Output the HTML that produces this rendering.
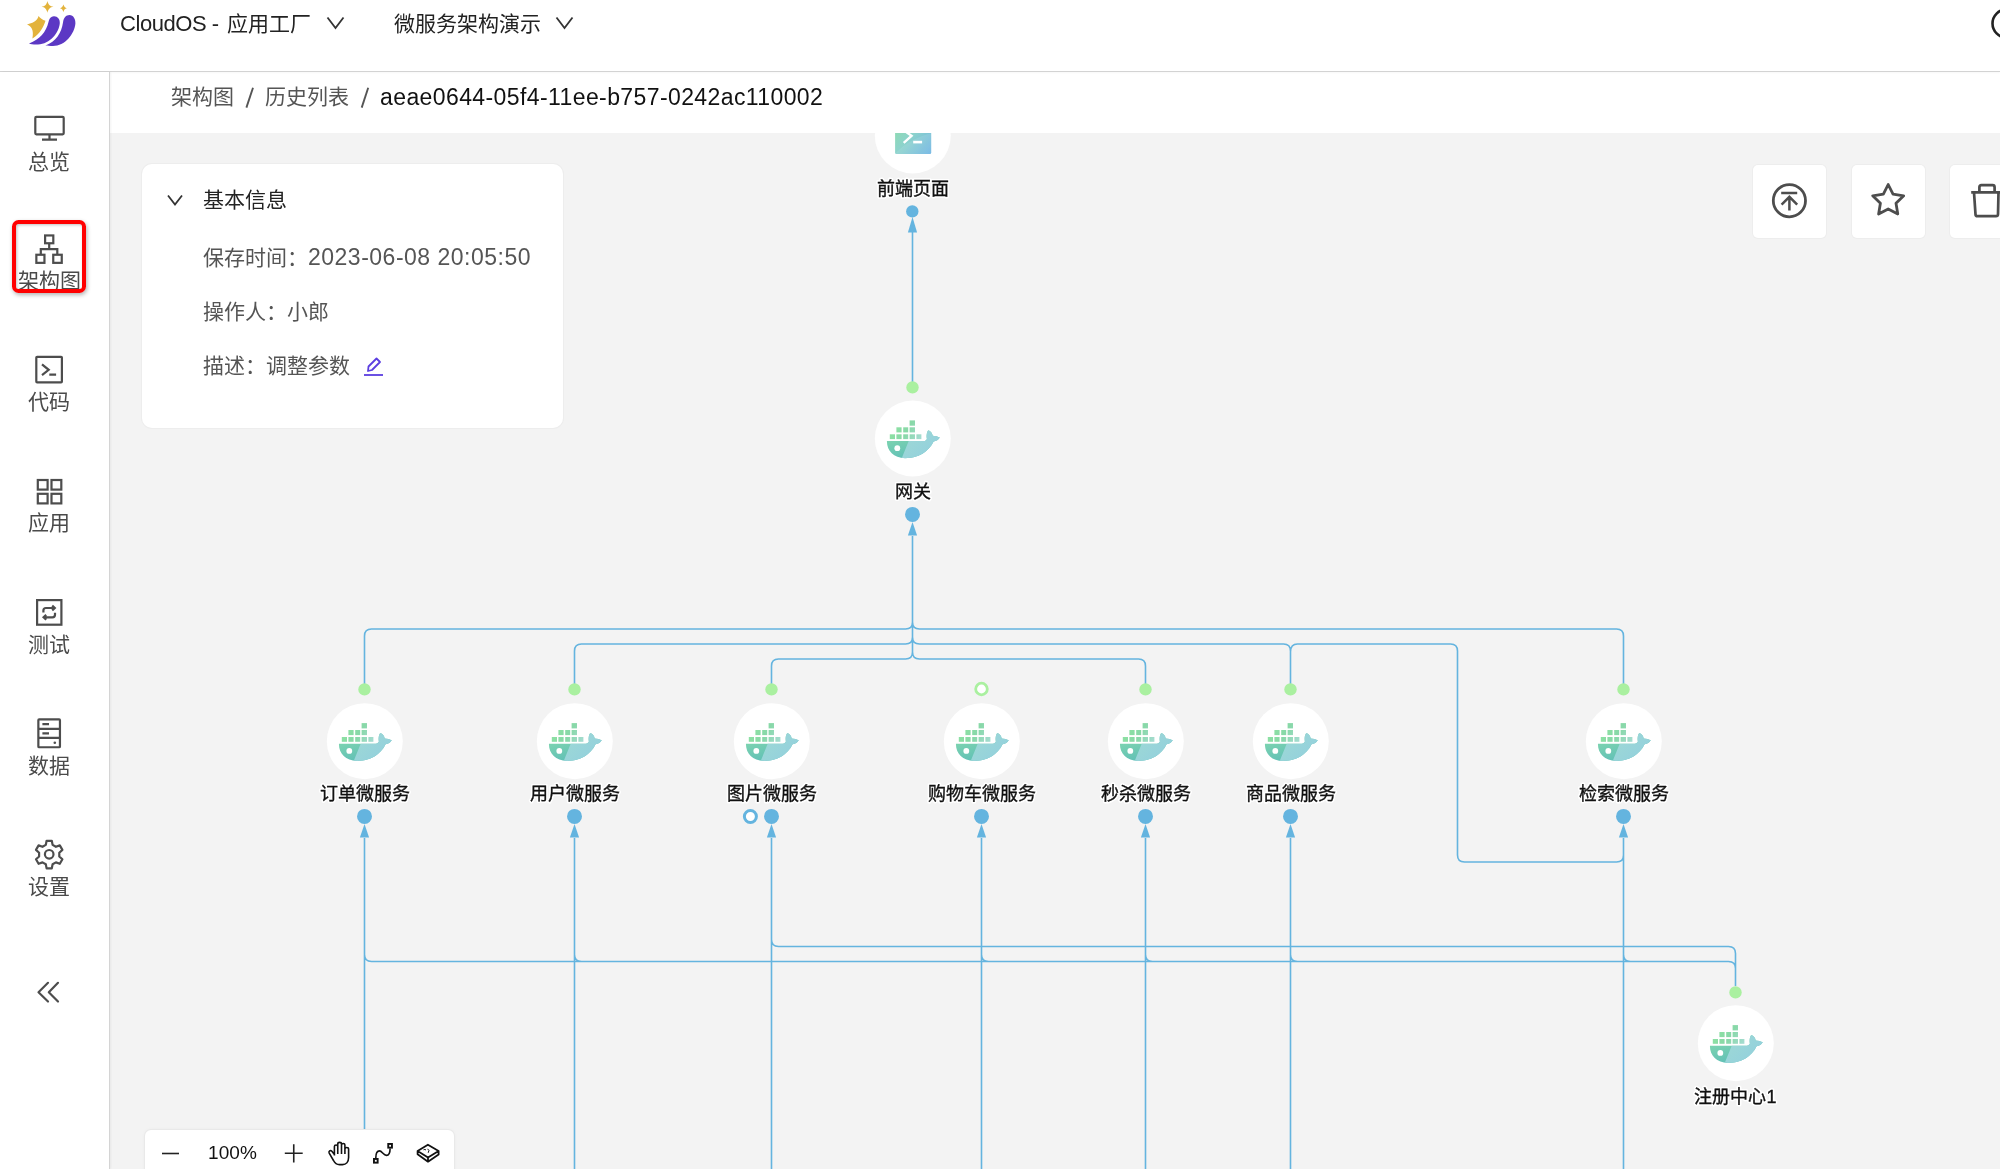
<!DOCTYPE html>
<html lang="zh-CN"><head><meta charset="utf-8">
<style>
*{margin:0;padding:0;box-sizing:border-box}
html,body{width:2000px;height:1169px;overflow:hidden;background:#f3f3f3;font-family:"Liberation Sans",sans-serif;}
body{will-change:transform}
.abs{position:absolute}
#header{position:absolute;left:0;top:0;width:2000px;height:72px;background:#fff;border-bottom:1px solid #d3d3d3;box-shadow:0 1px 2px rgba(0,0,0,0.03)}
#side{position:absolute;left:0;top:72px;width:110px;height:1097px;background:#fff;border-right:1px solid #d4d4d4;box-shadow:1px 0 2px rgba(0,0,0,0.05)}
#crumb{position:absolute;left:110px;top:72px;width:1890px;height:61px;background:#fff;}
.t{position:absolute;white-space:nowrap;line-height:1}
.sl{position:absolute;left:0;width:98px;text-align:center;font-size:21px;color:#4a4a4a;line-height:1}
.lbl{font-size:18px;font-family:"Liberation Sans",sans-serif;}
.halo{fill:#fff;stroke:#fff;stroke-width:3.5px;stroke-linejoin:round}
.ink{fill:#111;stroke:#111;stroke-width:0.35px}
#graph{position:absolute;left:0;top:0}
.card{position:absolute;background:#fff;border-radius:10px;box-shadow:0 0 0 1px #ededed}
.btn{position:absolute;top:164px;width:73px;height:73px;background:#fff;border-radius:5px;box-shadow:0 0 0 1px #ededed}
.ic{fill:none;stroke:#4d4d4d;stroke-width:2.2}
</style></head><body>
<svg id="graph" width="2000" height="1169" viewBox="0 0 2000 1169">
<defs>
 <linearGradient id="gBox" gradientUnits="userSpaceOnUse" x1="-23" y1="-18" x2="9" y2="1">
  <stop offset="0" stop-color="#90e6a0"/><stop offset="0.55" stop-color="#88d8a8"/><stop offset="1" stop-color="#a8dcd4"/>
 </linearGradient>
 <linearGradient id="gBody" x1="0" y1="0" x2="0.6" y2="1">
  <stop offset="0" stop-color="#88dcad"/><stop offset="1" stop-color="#5cbcb8"/>
 </linearGradient>
 <linearGradient id="gBody2" x1="0" y1="0" x2="1" y2="1">
  <stop offset="0" stop-color="#a2dcd2"/><stop offset="1" stop-color="#8fcde0"/>
 </linearGradient>
 <linearGradient id="gTerm" x1="0" y1="0" x2="1" y2="1">
  <stop offset="0" stop-color="#8fe0a0"/><stop offset="0.5" stop-color="#8dd3cc"/><stop offset="1" stop-color="#6cb3e3"/>
 </linearGradient>
 
<symbol id="whale" overflow="visible">
  <g fill="url(#gBox)">
   <rect x="-22.9" y="-3.9" width="5.2" height="4.8"/>
   <rect x="-16.3" y="-3.9" width="5.2" height="4.8"/>
   <rect x="-9.5" y="-3.9" width="5.0" height="4.8"/>
   <rect x="-3.1" y="-3.9" width="5.4" height="4.8"/>
   <rect x="3.7" y="-3.9" width="5.0" height="4.8"/>
   <rect x="-16.3" y="-10.9" width="5.2" height="5.1"/>
   <rect x="-9.5" y="-10.9" width="5.0" height="5.1"/>
   <rect x="-3.1" y="-10.9" width="5.4" height="5.1"/>
   <rect x="-3.1" y="-17.8" width="5.4" height="5.3"/>
  </g>
  <path fill="url(#gBody)" d="M-25.8 2.9 H11.1 C12.5 2.7 13.8 1.8 14.2 0.7 C13.5 -3 14.2 -6.8 15.8 -8 C18.2 -6.8 19.8 -4.8 20 -2.4 C22.5 -2.3 25.3 -1.5 27.1 -0.6 C25.8 1.7 23.5 3 20.9 3.4 C17.5 10.5 9 20 -7.6 20 C-19 20 -25.8 13 -25.8 2.9 Z"/>
  <path fill="url(#gBody2)" clip-path="url(#wclip)" d="M-4 2.9 L-4 -20 L30 -20 L30 25 L-13 25 Z"/>
  <circle cx="-15.4" cy="10" r="2.9" fill="#fff"/>
</symbol>
<clipPath id="wclip"><path d="M-25.8 2.9 H11.1 C12.5 2.7 13.8 1.8 14.2 0.7 C13.5 -3 14.2 -6.8 15.8 -8 C18.2 -6.8 19.8 -4.8 20 -2.4 C22.5 -2.3 25.3 -1.5 27.1 -0.6 C25.8 1.7 23.5 3 20.9 3.4 C17.5 10.5 9 20 -7.6 20 C-19 20 -25.8 13 -25.8 2.9 Z"/></clipPath>
<symbol id="term" overflow="visible">
  <rect x="-17.6" y="-22" width="36.1" height="40.7" rx="1.2" fill="url(#gTerm)"/>
  <path d="M-17.6 18.7 C-12 12 -6 8 2 4 C8 1 14 -1 18.5 -2 V18.7 Z" fill="#fff" opacity="0.1"/>
  <path d="M-7.2 -3.6 L-1.2 0.6 L-9 7.6" stroke="#fff" stroke-width="2.4" fill="none" stroke-linejoin="miter"/>
  <rect x="0.5" y="5.6" width="8.9" height="2.6" fill="#fff"/>
</symbol>

</defs>
<path fill="none" stroke="#64b4df" stroke-width="1.6" d="M912.5 232 V386 M912.5 536 V652 M912.5 622 Q912.5 629 905.5 629 H371.5 Q364.5 629 364.5 636 V689 M912.5 622 Q912.5 629 919.5 629 H1616.5 Q1623.5 629 1623.5 636 V689 M912.5 637 Q912.5 644 905.5 644 H581.5 Q574.5 644 574.5 651 V689 M912.5 637 Q912.5 644 919.5 644 H1283.5 Q1290.5 644 1290.5 651 V689 M912.5 652 Q912.5 659 905.5 659 H778.5 Q771.5 659 771.5 666 V689 M912.5 652 Q912.5 659 919.5 659 H1138.5 Q1145.5 659 1145.5 666 V689 M1290.5 652 Q1290.5 644 1297.5 644 H1450.5 Q1457.5 644 1457.5 651 V855 Q1457.5 862 1464.5 862 H1616.5 Q1623.5 862 1623.5 855 M364.5 838 V1169 M574.5 838 V1169 M771.5 838 V1169 M981.5 838 V1169 M1145.5 838 V1169 M1290.5 838 V1169 M1623.5 838 V1169 M771.5 939.5 Q771.5 946.5 778.5 946.5 H1728.5 Q1735.5 946.5 1735.5 953.5 V986 M364.5 954.5 Q364.5 961.5 371.5 961.5 H1728.5 Q1735.5 961.5 1735.5 968.5 V975 M574.5 954.5 Q574.5 961.5 581.5 961.5 M981.5 954.5 Q981.5 961.5 988.5 961.5 M1145.5 954.5 Q1145.5 961.5 1152.5 961.5 M1290.5 954.5 Q1290.5 961.5 1297.5 961.5 M1623.5 954.5 Q1623.5 961.5 1630.5 961.5"/>
<circle cx="912.8" cy="135.5" r="38" fill="#fff"/>
<use href="#term" x="912.7" y="135.2"/>
<text x="912.5" y="195" text-anchor="middle" class="lbl halo">前端页面</text>
<text x="912.5" y="195" text-anchor="middle" class="lbl ink">前端页面</text>
<circle cx="912.3" cy="211.4" r="6.2" fill="#64b4df"/>
<path d="M912.5 217 L917.1 232.5 L907.9 232.5 Z" fill="#64b4df"/>
<circle cx="912.8" cy="438.5" r="38" fill="#fff"/>
<use href="#whale" x="912.7" y="438.2"/>
<text x="912.5" y="498" text-anchor="middle" class="lbl halo">网关</text>
<text x="912.5" y="498" text-anchor="middle" class="lbl ink">网关</text>
<circle cx="912.5" cy="387.4" r="6.2" fill="#aaf0a0"/>
<circle cx="912.5" cy="514.4" r="7.5" fill="#64b4df"/>
<path d="M912.5 522 L917.1 535.6 L907.9 535.6 Z" fill="#64b4df"/>
<circle cx="364.8" cy="741.2" r="38" fill="#fff"/>
<use href="#whale" x="364.7" y="740.9000000000001"/>
<text x="364.5" y="800" text-anchor="middle" class="lbl halo">订单微服务</text>
<text x="364.5" y="800" text-anchor="middle" class="lbl ink">订单微服务</text>
<circle cx="364.5" cy="689.4" r="6.2" fill="#aaf0a0"/>
<circle cx="364.5" cy="816.4" r="7.5" fill="#64b4df"/>
<path d="M364.5 824 L369.1 837.6 L359.9 837.6 Z" fill="#64b4df"/>
<circle cx="574.8" cy="741.2" r="38" fill="#fff"/>
<use href="#whale" x="574.7" y="740.9000000000001"/>
<text x="574.5" y="800" text-anchor="middle" class="lbl halo">用户微服务</text>
<text x="574.5" y="800" text-anchor="middle" class="lbl ink">用户微服务</text>
<circle cx="574.5" cy="689.4" r="6.2" fill="#aaf0a0"/>
<circle cx="574.5" cy="816.4" r="7.5" fill="#64b4df"/>
<path d="M574.5 824 L579.1 837.6 L569.9 837.6 Z" fill="#64b4df"/>
<circle cx="771.8" cy="741.2" r="38" fill="#fff"/>
<use href="#whale" x="771.7" y="740.9000000000001"/>
<text x="771.5" y="800" text-anchor="middle" class="lbl halo">图片微服务</text>
<text x="771.5" y="800" text-anchor="middle" class="lbl ink">图片微服务</text>
<circle cx="771.5" cy="689.4" r="6.2" fill="#aaf0a0"/>
<circle cx="771.5" cy="816.4" r="7.5" fill="#64b4df"/>
<path d="M771.5 824 L776.1 837.6 L766.9 837.6 Z" fill="#64b4df"/>
<circle cx="981.8" cy="741.2" r="38" fill="#fff"/>
<use href="#whale" x="981.7" y="740.9000000000001"/>
<text x="981.5" y="800" text-anchor="middle" class="lbl halo">购物车微服务</text>
<text x="981.5" y="800" text-anchor="middle" class="lbl ink">购物车微服务</text>
<circle cx="981.5" cy="689" r="5.8" fill="#fff" stroke="#aaf0a0" stroke-width="2.8"/>
<circle cx="981.5" cy="816.4" r="7.5" fill="#64b4df"/>
<path d="M981.5 824 L986.1 837.6 L976.9 837.6 Z" fill="#64b4df"/>
<circle cx="1145.8" cy="741.2" r="38" fill="#fff"/>
<use href="#whale" x="1145.7" y="740.9000000000001"/>
<text x="1145.5" y="800" text-anchor="middle" class="lbl halo">秒杀微服务</text>
<text x="1145.5" y="800" text-anchor="middle" class="lbl ink">秒杀微服务</text>
<circle cx="1145.5" cy="689.4" r="6.2" fill="#aaf0a0"/>
<circle cx="1145.5" cy="816.4" r="7.5" fill="#64b4df"/>
<path d="M1145.5 824 L1150.1 837.6 L1140.9 837.6 Z" fill="#64b4df"/>
<circle cx="1290.8" cy="741.2" r="38" fill="#fff"/>
<use href="#whale" x="1290.7" y="740.9000000000001"/>
<text x="1290.5" y="800" text-anchor="middle" class="lbl halo">商品微服务</text>
<text x="1290.5" y="800" text-anchor="middle" class="lbl ink">商品微服务</text>
<circle cx="1290.5" cy="689.4" r="6.2" fill="#aaf0a0"/>
<circle cx="1290.5" cy="816.4" r="7.5" fill="#64b4df"/>
<path d="M1290.5 824 L1295.1 837.6 L1285.9 837.6 Z" fill="#64b4df"/>
<circle cx="1623.8" cy="741.2" r="38" fill="#fff"/>
<use href="#whale" x="1623.7" y="740.9000000000001"/>
<text x="1623.5" y="800" text-anchor="middle" class="lbl halo">检索微服务</text>
<text x="1623.5" y="800" text-anchor="middle" class="lbl ink">检索微服务</text>
<circle cx="1623.5" cy="689.4" r="6.2" fill="#aaf0a0"/>
<circle cx="1623.5" cy="816.4" r="7.5" fill="#64b4df"/>
<path d="M1623.5 824 L1628.1 837.6 L1618.9 837.6 Z" fill="#64b4df"/>
<circle cx="750.4" cy="816.5" r="6" fill="#fff" stroke="#64b4df" stroke-width="3"/>
<circle cx="1735.8" cy="1043.2" r="38" fill="#fff"/>
<use href="#whale" x="1735.7" y="1042.9"/>
<text x="1735.5" y="1103" text-anchor="middle" class="lbl halo">注册中心1</text>
<text x="1735.5" y="1103" text-anchor="middle" class="lbl ink">注册中心1</text>
<circle cx="1735.5" cy="992.4" r="6.2" fill="#aaf0a0"/>
</svg>

<div id="crumb">
 <div class="t" style="left:61px;top:14px;font-size:21px;color:#555">架构图</div>
 <svg class="abs" style="left:130px;top:12px" width="20" height="26"><path d="M13 3.8 L6.4 23.6" stroke="#555" stroke-width="1.9"/></svg>
 <div class="t" style="left:155px;top:14px;font-size:21px;color:#555">历史列表</div>
 <svg class="abs" style="left:245px;top:12px" width="20" height="26"><path d="M13.2 3.8 L6.7 23.6" stroke="#555" stroke-width="1.9"/></svg>
 <div class="t" style="left:270px;top:14px;font-size:21px;color:#111;letter-spacing:0.4px;font-size:23px">aeae0644-05f4-11ee-b757-0242ac110002</div>
</div>

<div id="header">
 <svg class="abs" style="left:10px;top:0" width="80" height="60" viewBox="0 0 80 60">
  <path fill="#e3b33c" d="M37.4 1 C38.5 5 40 6.5 43.5 6.7 C40 7.2 38.5 8.5 37.4 12.8 C36.4 8.5 35 7.2 31.5 6.7 C35 6.5 36.4 5 37.4 1 Z"/>
  <path fill="#e3b33c" d="M53.4 4.5 C54.2 7 55 7.7 56.8 8.2 C55 8.6 54.2 9.4 53.4 12 C52.6 9.4 51.8 8.6 50 8.2 C51.8 7.7 52.6 7 53.4 4.5 Z"/>
  <path fill="#e3b33c" d="M28.6 16 C27 20 26 22 17 24.5 C21.5 26.5 24 30 22.4 38.5 C30 34 33 28 35.5 20.8 C32.5 20 30 18 28.6 16 Z"/>
  <path fill="#5c38c4" d="M19 43.5 C30 39.5 36 32 38.5 22 C39.5 18 41 16.5 43.8 16.2 C47.5 16 50 19 49.8 23 C49 33 40 44 28 44.5 C24 44.7 21 44.3 19 43.5 Z"/>
  <path fill="#5c38c4" d="M35.5 45.5 C46 41.5 51.5 33 53 22.5 C53.6 17.7 56 15 59.5 15 C63.5 15.2 65.6 19 65.4 23.5 C64.5 34 55 46 43 46 C40 46 37.5 45.8 35.5 45.5 Z"/>
 </svg>
 <div class="t" style="left:120px;top:13px;font-size:21px;color:#222"><span style="font-size:22px;letter-spacing:-0.45px">CloudOS -</span> <span style="margin-left:2px">应用工厂</span></div>
 <svg class="abs" style="left:325px;top:15px" width="22" height="16"><path d="M2.5 2.5 L10.5 13 L18.5 2.5" stroke="#333" stroke-width="1.8" fill="none"/></svg>
 <div class="t" style="left:394px;top:13px;font-size:21px;color:#222">微服务架构演示</div>
 <svg class="abs" style="left:554px;top:15px" width="22" height="16"><path d="M2.5 2.5 L10.5 13 L18.5 2.5" stroke="#333" stroke-width="1.8" fill="none"/></svg>
 <svg class="abs" style="left:1975px;top:6px" width="25" height="34"><circle cx="31.5" cy="17.5" r="14" stroke="#222" stroke-width="2.6" fill="none"/></svg>
</div>

<div id="side"></div>
<!-- sidebar icons (page coords) -->
<svg class="abs" style="left:33px;top:113px" width="32" height="30" viewBox="0 0 32 30"><rect x="2.3" y="3.9" width="28.4" height="17.4" rx="1" class="ic"/><path d="M16.5 21.3 V26.7 M9 26.7 H24" class="ic"/></svg>
<div class="sl" style="top:151px">总览</div>

<div class="abs" style="left:11.5px;top:219.5px;width:74.5px;height:73.5px;border:4px solid #ff0000;border-radius:6.5px;box-shadow:1px 2px 4px rgba(0,0,0,0.3), inset 1px 1px 3px rgba(0,0,0,0.25)"></div>
<svg class="abs" style="left:33px;top:232px" width="32" height="34" viewBox="0 0 32 34"><rect x="12.1" y="3.45" width="8.2" height="7.8" class="ic" stroke-width="1.9"/><rect x="3.35" y="22.75" width="8.1" height="8.1" class="ic" stroke-width="1.9"/><rect x="20.25" y="22.75" width="8.5" height="8.1" class="ic" stroke-width="1.9"/><path d="M16.2 11.3 V17.2 M7.8 22.75 V17.2 H24.3 V22.75" class="ic" stroke-width="1.9"/></svg>
<div class="sl" style="top:270px;height:19px;overflow:hidden">架构图</div>

<svg class="abs" style="left:33px;top:353px" width="32" height="33" viewBox="0 0 32 33"><rect x="3.3" y="3.8" width="25.6" height="25.6" rx="0.8" class="ic"/><path d="M9 11.4 L15.7 16.8 L9 22.1 M16.3 21.6 H23.1" class="ic" stroke-width="2.1"/></svg>
<div class="sl" style="top:391px">代码</div>

<svg class="abs" style="left:33px;top:476px" width="32" height="30" viewBox="0 0 32 30"><rect x="4.8" y="4" width="9.8" height="9.6" class="ic" stroke-width="2"/><rect x="18.5" y="4" width="9.8" height="9.6" class="ic" stroke-width="2"/><rect x="4.8" y="17.8" width="9.8" height="9.6" class="ic" stroke-width="2"/><rect x="18.5" y="17.8" width="9.8" height="9.6" class="ic" stroke-width="2"/></svg>
<div class="sl" style="top:512px">应用</div>

<svg class="abs" style="left:33px;top:596px" width="32" height="33" viewBox="0 0 32 33"><rect x="4.1" y="4.1" width="24.3" height="24.6" class="ic"/><path d="M10.4 16.5 V14.5 C10.4 12.8 11.3 12 13 12 H21.5 M19.2 9.6 L21.8 12 L19.2 14.4 M22 16.8 V18.8 C22 20.5 21.1 21.3 19.4 21.3 H10.9 M13.2 18.9 L10.6 21.3 L13.2 23.7" class="ic" stroke-width="1.9"/></svg>
<div class="sl" style="top:634px">测试</div>

<svg class="abs" style="left:33px;top:716px" width="32" height="34" viewBox="0 0 32 34"><rect x="5.35" y="3.45" width="21.6" height="27.8" rx="0.8" class="ic" stroke-width="2.1"/><path d="M5.35 12.9 H27 M5.35 21.8 H27 M9.4 8.2 H16 M9.4 17.4 H16" class="ic" stroke-width="2"/><circle cx="21.8" cy="26.8" r="1.3" fill="#4d4d4d"/></svg>
<div class="sl" style="top:755px">数据</div>

<svg class="abs" style="left:33px;top:837px" width="32" height="34" viewBox="0 0 32 34"><path d="M13.6 3.8 H18.8 L19.6 7.9 L22.9 9.8 L26.8 8.4 L29.4 12.9 L26.3 15.7 V19.5 L29.4 22.3 L26.8 26.8 L22.9 25.4 L19.6 27.3 L18.8 31.4 H13.6 L12.8 27.3 L9.5 25.4 L5.6 26.8 L3 22.3 L6.1 19.5 V15.7 L3 12.9 L5.6 8.4 L9.5 9.8 L12.8 7.9 Z" class="ic" stroke-width="2.1" stroke-linejoin="round"/><circle cx="16.2" cy="17.3" r="4.3" class="ic" stroke-width="2"/></svg>
<div class="sl" style="top:876px">设置</div>

<svg class="abs" style="left:33px;top:978px" width="30" height="28" viewBox="0 0 30 28"><path d="M15 4.8 L5.5 14.3 L15 23.5 M25 4.8 L15.8 14.3 L25 23.5" class="ic" stroke="#444" stroke-width="1.8" stroke-linecap="round" stroke-linejoin="round"/></svg>

<!-- info card -->
<div class="card" style="left:142px;top:164px;width:421px;height:264px">
 <svg class="abs" style="left:24px;top:29px" width="18" height="14"><path d="M2 2.5 L9 11.5 L16 2.5" stroke="#333" stroke-width="1.8" fill="none"/></svg>
 <div class="t" style="left:61px;top:25px;font-size:21px;color:#222">基本信息</div>
 <div class="t" style="left:61px;top:82px;font-size:21px;color:#555">保存时间：<span style="letter-spacing:0.4px;font-size:23px;letter-spacing:0.5px">2023-06-08 20:05:50</span></div>
 <div class="t" style="left:61px;top:137px;font-size:21px;color:#555">操作人：小郎</div>
 <div class="t" style="left:61px;top:191px;font-size:21px;color:#555">描述：调整参数</div>
 <svg class="abs" style="left:221px;top:191px" width="22" height="22" viewBox="0 0 22 22"><path d="M5 16 L5.5 11.5 L13.5 3.5 L17 7 L9 15 Z" fill="none" stroke="#5b3ee0" stroke-width="1.8" stroke-linejoin="round"/><path d="M1 20 H20" stroke="#5b3ee0" stroke-width="1.8"/></svg>
</div>

<!-- action buttons -->
<div class="btn" style="left:1753px;top:164.5px">
 <svg class="abs" style="left:18px;top:17.5px" width="37" height="37" viewBox="0 0 37 37"><circle cx="18.4" cy="18.7" r="16.1" fill="none" stroke="#4d4d4d" stroke-width="2.8"/><path d="M10.2 10.9 H26.2 M18.4 28.6 V14.8 M10.6 22.6 L18.4 14.8 L26.2 22.6" fill="none" stroke="#4d4d4d" stroke-width="2.5"/></svg>
</div>
<div class="btn" style="left:1851.5px;top:164.5px">
 <svg class="abs" style="left:18px;top:17.5px" width="38" height="37" viewBox="0 0 38 37"><path d="M18.20 2.50 L23.02 12.17 L33.70 13.76 L26.00 21.33 L27.78 31.99 L18.20 27.00 L8.62 31.99 L10.40 21.33 L2.70 13.76 L13.38 12.17 Z" fill="none" stroke="#4d4d4d" stroke-width="2.8" stroke-linejoin="round"/></svg>
</div>
<div class="btn" style="left:1949.5px;top:164.5px">
 <svg class="abs" style="left:19.5px;top:17.5px" width="40" height="37" viewBox="0 0 40 37"><path d="M2.2 10.3 H40 M10.4 10.3 V5.2 Q10.4 3.2 12.4 3.2 H23.6 Q25.6 3.2 25.6 5.2 V10.3 M5 10.3 L6.5 32.3 Q6.6 34.2 8.5 34.2 H27 Q28.9 34.2 29 32.3 L29.5 10.3" fill="none" stroke="#4d4d4d" stroke-width="2.7" stroke-linejoin="round"/></svg>
</div>

<!-- bottom toolbar -->
<div class="card" style="left:145px;top:1130px;width:309px;height:60px;border-radius:6px;box-shadow:0 0 0 1px #e9e9e9, 0 0 4px rgba(0,0,0,0.05)">
 <svg class="abs" style="left:16px;top:22px" width="20" height="4"><path d="M1 1.5 H18" stroke="#222" stroke-width="1.6"/></svg>
 <div class="t" style="left:63px;top:13px;font-size:19px;color:#111;letter-spacing:0.1px">100%</div>
 <svg class="abs" style="left:138px;top:12px" width="22" height="22"><path d="M1.8 11.2 H19.7 M10.75 2.3 V20.6" stroke="#222" stroke-width="1.6"/></svg>
 <svg class="abs" style="left:182px;top:11px" width="24" height="26" viewBox="0 0 24 26"><path d="M7.4 14.5 V5.6 C7.4 3.4 10.75 3.4 10.75 5.6 V12.9 M10.75 12.9 V3 C10.75 0.8 14.5 0.8 14.5 3 V12.9 M14.5 12.9 V4.1 C14.5 1.9 17.9 1.9 17.9 4.1 V12.9 M17.9 12.9 V8.2 C17.9 6 21.6 6 21.6 8.2 V16.5 C21.6 21 19 23.6 15.5 23.6 H12.5 C9.5 23.6 8 22.5 6.5 19.5 L2.2 12.2 C1.3 10.5 3.3 8.6 4.9 10.3 L7.4 13.5" fill="none" stroke="#111" stroke-width="1.6" stroke-linejoin="round"/></svg>
 <svg class="abs" style="left:227px;top:12px" width="24" height="24" viewBox="0 0 24 24"><rect x="1.95" y="16.95" width="3.7" height="3.7" fill="none" stroke="#111" stroke-width="1.9"/><rect x="16.25" y="1.95" width="3.7" height="3.7" fill="none" stroke="#111" stroke-width="1.9"/><path d="M3.8 16 C3.8 11 5.5 8.9 7.5 8.9 C10 8.9 11.5 13.4 14.5 13.4 C17 13.4 18.1 11 18.1 6.6" fill="none" stroke="#111" stroke-width="1.6"/></svg>
 <svg class="abs" style="left:271px;top:13px" width="26" height="22" viewBox="0 0 26 22"><path d="M11.9 1.7 L22.6 8 V11.5 L12 18.7 L1.6 11.3 V7.9 Z M1.6 7.9 L12 14.5 L22.6 8 M12 14.5 V18.7" fill="none" stroke="#111" stroke-width="1.8" stroke-linejoin="round"/><path d="M7.5 6.8 Q9 6 10 7 M11.5 5.8 Q14 7 12.2 9.8" fill="none" stroke="#111" stroke-width="1"/></svg>
</div>
</body></html>
